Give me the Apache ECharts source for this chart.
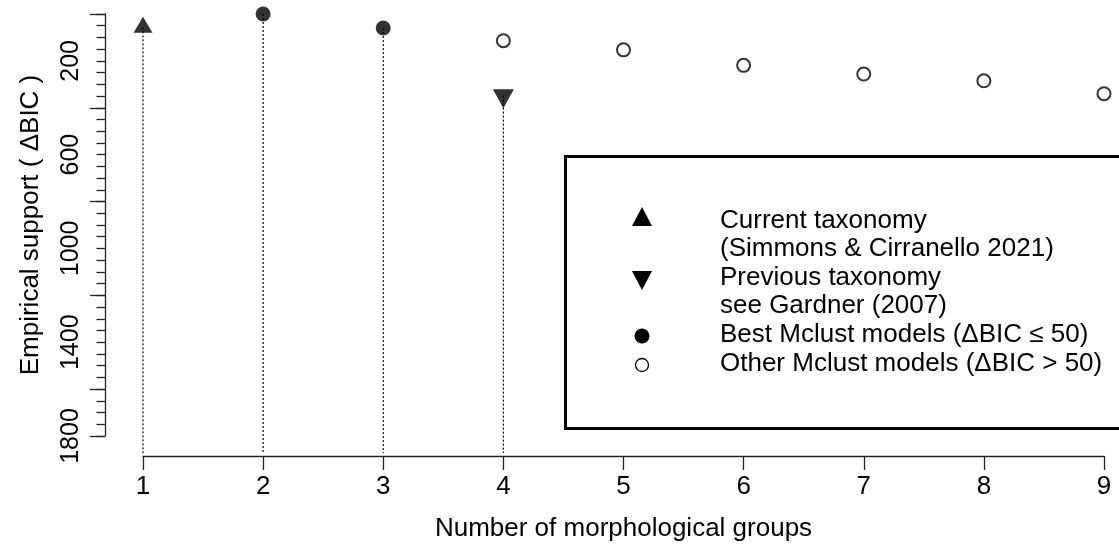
<!DOCTYPE html>
<html><head><meta charset="utf-8">
<script src="https://cdn.jsdelivr.net/npm/echarts@6/dist/echarts.min.js"></script>
<style>html,body{margin:0;padding:0;background:#fff}#c{width:1119px;height:549px}</style>
</head><body><div id="c"></div>
<script>
// ---- data ----
const groups = [1, 2, 3, 4, 5, 6, 7, 8, 9];
const currentX = [1];
const currentY = [57];
const previousX = [4];
const previousY = [348];
const bestX = [2, 3];
const bestY = [0, 60];
const otherX = [4, 5, 6, 7, 8, 9];
const otherY = [114, 153, 219, 256, 285, 340];
const yLabelValues = [200, 600, 1000, 1400, 1800];
const yMajorTickValues = [0, 400, 800, 1200, 1600, 1800];
const yMinorTickValues = [0,50,100,150,200,250,300,350,400,450,500,550,600,650,700,750,800,850,900,950,1000,1050,1100,1150,1200,1250,1300,1350,1400,1450,1500,1550,1600,1650,1700,1750,1800];
const legendLabels = [
  ['Current taxonomy', '(Simmons & Cirranello 2021)'],
  ['Previous taxonomy', 'see Gardner (2007)'],
  ['Best Mclust models (\u0394BIC \u2264 50)'],
  ['Other Mclust models (\u0394BIC > 50)']
];
const xTitle = 'Number of morphological groups';
const yTitle = 'Empirical support ( \u0394BIC )';

const FONT = '"Liberation Sans", Arial, sans-serif';
const FS = 26;
const zip = (xs, ys) => xs.map((x, i) => [x, ys[i]]);
const stems = zip(currentX, currentY).concat(zip(bestX, bestY), zip(previousX, previousY));
const yMin = 0, yMax = 1800, yPlotBottom = 1872;

const chart = echarts.init(document.getElementById('c'), null, {renderer: 'canvas'});
const axisColor = '#222';
chart.setOption({
  animation: false,
  backgroundColor: '#fff',
  grid: {left: 143, width: 961, top: 14, height: 422, containLabel: false},
  xAxis: {
    type: 'value', min: groups[0], max: groups[groups.length - 1], interval: 1,
    offset: 20,
    name: xTitle, nameLocation: 'middle', nameGap: 60,
    nameTextStyle: {fontFamily: FONT, fontSize: FS, color: '#000'},
    axisLine: {show: true, onZero: false, lineStyle: {color: axisColor, width: 1.3}},
    axisTick: {show: true, length: 14, lineStyle: {color: axisColor, width: 1.3}},
    axisLabel: {show: true, margin: 18, fontFamily: FONT, fontSize: FS, color: '#000'},
    splitLine: {show: false}
  },
  yAxis: [{
    type: 'value', min: yMin, max: yMax, inverse: true, position: 'left', offset: 38,
    name: yTitle, nameLocation: 'middle', nameGap: 61, nameRotate: 90,
    nameTextStyle: {fontFamily: FONT, fontSize: FS, color: '#000'},
    axisLine: {show: true, onZero: false, lineStyle: {color: axisColor, width: 1.3}},
    axisTick: {show: true, length: 8.5, customValues: yMinorTickValues, lineStyle: {color: axisColor, width: 1.3}},
    axisLabel: {show: true, rotate: 90, margin: 21, customValues: yLabelValues, formatter: v => String(v),
      fontFamily: FONT, fontSize: 25, color: '#000'},
    splitLine: {show: false}
  }, {
    type: 'value', min: yMin, max: yMax, inverse: true, position: 'left', offset: 38,
    axisLine: {show: false, onZero: false},
    axisTick: {show: true, length: 15, customValues: yMajorTickValues, lineStyle: {color: axisColor, width: 1.3}},
    axisLabel: {show: false},
    splitLine: {show: false}
  }],
  series: [{
    type: 'custom', name: 'stems', clip: false, z: 1,
    data: stems,
    renderItem: function (params, api) {
      const p0 = api.coord([api.value(0), api.value(1)]);
      const p1 = api.coord([api.value(0), yPlotBottom]);
      return {type: 'line', shape: {x1: p0[0], y1: p0[1], x2: p1[0], y2: p1[1]},
        style: {stroke: '#000', lineWidth: 1.2, lineDash: [2, 2]}};
    }
  }, {
    type: 'scatter', name: 'Current taxonomy', clip: false, z: 5,
    data: zip(currentX, currentY),
    symbol: 'triangle', symbolSize: [19, 16], symbolOffset: [0, -2.7],
    itemStyle: {color: '#000'}
  }, {
    type: 'scatter', name: 'Previous taxonomy', clip: false, z: 5,
    data: zip(previousX, previousY),
    symbol: 'path://M0,0 L2,0 L1,2 Z', symbolSize: [21, 19], symbolOffset: [0, 3.2],
    itemStyle: {color: '#000'}
  }, {
    type: 'scatter', name: 'Best', clip: false, z: 5,
    data: zip(bestX, bestY),
    symbol: 'circle', symbolSize: 15,
    itemStyle: {color: '#000'}
  }, {
    type: 'scatter', name: 'Other', clip: false, z: 5,
    data: zip(otherX, otherY),
    symbol: 'circle', symbolSize: 13,
    itemStyle: {color: '#fff', borderColor: '#000', borderWidth: 2}
  }]
});

// ---- legend box (drawn as graphic) ----
const lgText = {x: 720, lines: [221, 249, 278, 306, 335, 364]};
const symX = 642;
const txt = (s, y) => ({type: 'text', style: {text: s, x: lgText.x, y: y, font: FS + 'px ' + FONT, fill: '#000',
  textAlign: 'left', textVerticalAlign: 'middle', align: 'left', verticalAlign: 'middle'}});
const texts = [];
let li = 0;
legendLabels.forEach(item => item.forEach(s => { texts.push(txt(s, lgText.lines[li])); li++; }));
chart.setOption({
  graphic: [
    {type: 'rect', shape: {x: 565.5, y: 156.5, width: 620, height: 272},
     style: {fill: 'none', stroke: '#000', lineWidth: 3}, z: 10},
    {type: 'polygon', shape: {points: [[symX - 10, 226], [symX + 10, 226], [symX, 207]]}, style: {fill: '#000'}, z: 10},
    {type: 'polygon', shape: {points: [[symX - 10, 271], [symX + 10, 271], [symX, 290]]}, style: {fill: '#000'}, z: 10},
    {type: 'circle', shape: {cx: symX, cy: 336, r: 7.5}, style: {fill: '#000'}, z: 10},
    {type: 'circle', shape: {cx: symX, cy: 365, r: 6.5}, style: {fill: '#fff', stroke: '#000', lineWidth: 1.3}, z: 10}
  ].concat(texts.map(t => Object.assign(t, {z: 10})))
});
</script>
</body></html>
